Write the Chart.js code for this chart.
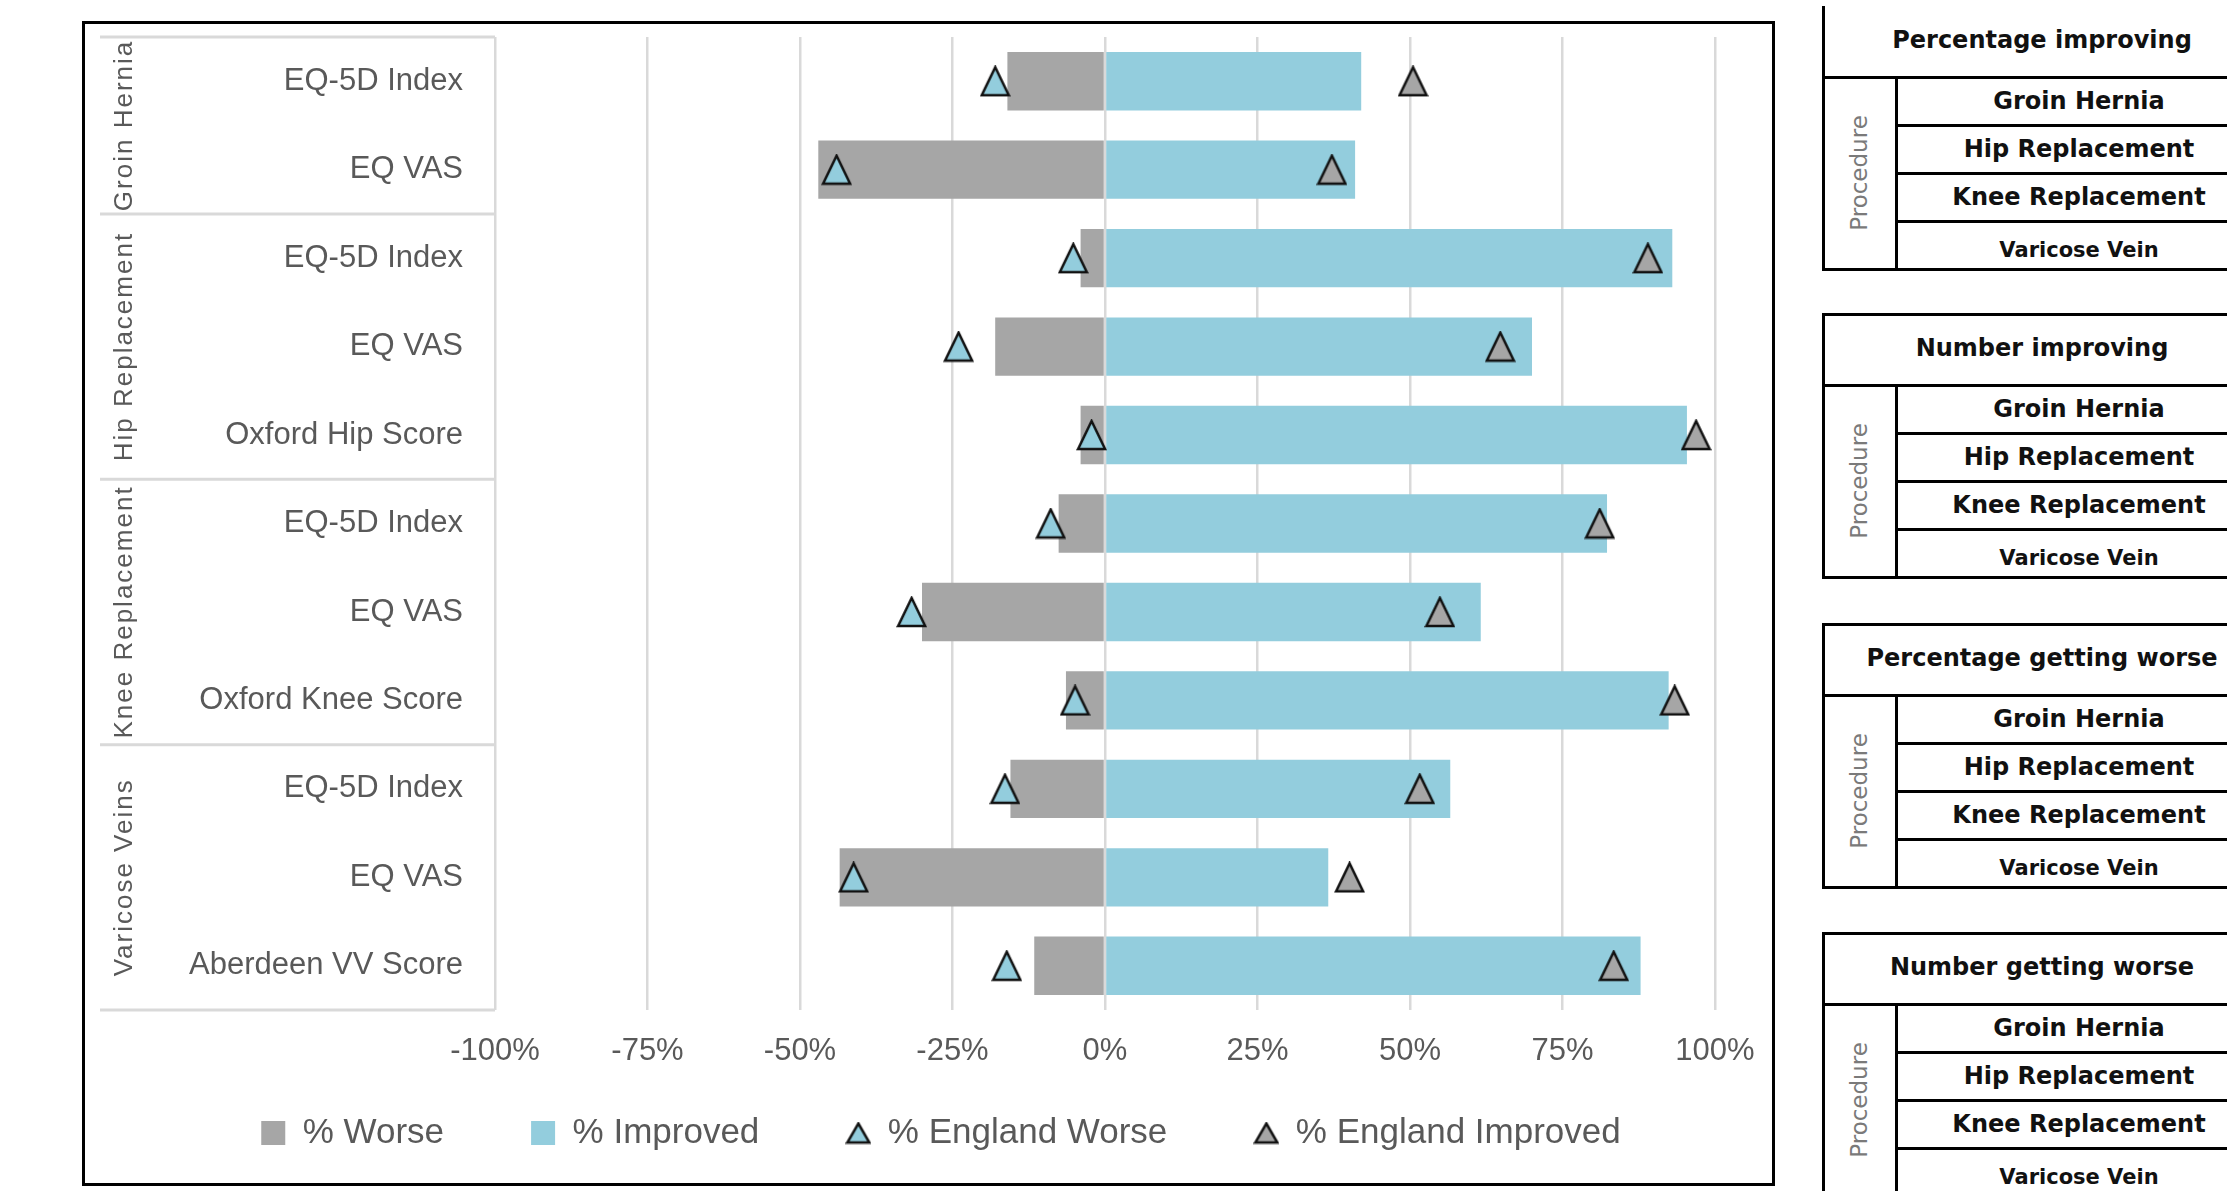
<!DOCTYPE html>
<html>
<head>
<meta charset="utf-8">
<title>PROMs outcomes by procedure</title>
<script src="https://cdn.jsdelivr.net/npm/chart.js@4.4.1/dist/chart.umd.min.js"></script>
<style>
  html, body { margin: 0; padding: 0; background: #fff; }
  body { width: 2227px; height: 1191px; position: relative; overflow: hidden; }
  #frame { position: absolute; left: 82px; top: 21px; width: 1693px; height: 1165px;
           border: 3px solid #000; box-sizing: border-box; }
  #wrap { position: absolute; left: 0; top: 0; width: 1687px; height: 1159px; }
  .tbl { position: absolute; left: 1822px; width: 440px; font-family: "DejaVu Sans", sans-serif; color: #111; }
  .tbl .ln { position: absolute; background: #000; }
  .tbl .title { position: absolute; left: 0; right: 0; display: flex; align-items: center;
                justify-content: center; font-weight: bold; font-size: 24px; padding-bottom: 4px; box-sizing: border-box; }
  .tbl .row { position: absolute; left: 74px; right: 0; display: flex; align-items: center;
              justify-content: center; font-weight: bold; font-size: 24px; }
  .tbl .proc { position: absolute; left: 0; width: 74px; display: flex; align-items: center;
               justify-content: center; color: #7a7a7a; font-size: 23px; }
  .tbl .proc span { transform: rotate(-90deg); white-space: nowrap; }
</style>
</head>
<body>
<div id="frame"><div id="wrap"><canvas id="chart"></canvas></div></div>
<div id="tables"></div>

<script>
// Data
const categories = ['EQ-5D Index', 'EQ VAS', 'EQ-5D Index', 'EQ VAS', 'Oxford Hip Score',
    'EQ-5D Index', 'EQ VAS', 'Oxford Knee Score', 'EQ-5D Index', 'EQ VAS', 'Aberdeen VV Score'];
const procedures = ['Groin Hernia', 'Hip Replacement', 'Knee Replacement', 'Varicose Veins'];
const procedureSizes = [2, 3, 3, 3];

const pctWorse = [-16, -47, -4, -18, -4, -7.6, -30, -6.4, -15.5, -43.5, -11.6];
const pctImproved = [42, 41, 93, 70, 95.4, 82.3, 61.6, 92.4, 56.6, 36.6, 87.8];
const englandWorse = [-18, -44, -5.2, -24, -2.2, -8.9, -31.7, -4.9, -16.4, -41.2, -16.1];
const englandImproved = [50.5, 37.2, 89, 64.8, 96.9, 81.1, 54.9, 93.4, 51.6, 40.1, 83.4];

const xMin = -100;
const xMax = 100;
const xStep = 25;

// Side tables
const tableTitles = ['Percentage improving', 'Number improving', 'Percentage getting worse', 'Number getting worse'];
const tableRows = ['Groin Hernia', 'Hip Replacement', 'Knee Replacement', 'Varicose Vein'];
const tableTops = [6, 314, 624, 933];

const GREY = '#a6a6a6';
const BLUE = '#93cddd';
const TEXT = '#595959';
const FONT = '"Liberation Sans", Arial, sans-serif';

function makeTriangle(w, h, fill) {
    const c = document.createElement('canvas');
    c.width = w;
    c.height = h;
    const g = c.getContext('2d');
    g.beginPath();
    g.moveTo(w / 2, 2);
    g.lineTo(w - 2, h - 2);
    g.lineTo(2, h - 2);
    g.closePath();
    g.fillStyle = fill;
    g.fill();
    g.lineWidth = 2.5;
    g.strokeStyle = '#111';
    g.stroke();
    return c;
}

const triWorse = makeTriangle(31, 32, BLUE);
const triImproved = makeTriangle(31, 32, GREY);
const legTriWorse = makeTriangle(26, 23, BLUE);
const legTriImproved = makeTriangle(26, 23, GREY);

// Left-hand procedure panel: group separators + rotated group names
const groupPanel = {
    id: 'groupPanel',
    afterDraw(chart) {
        const { ctx, chartArea, scales: { y } } = chart;
        const step = y.getPixelForValue(1) - y.getPixelForValue(0);
        const left = 15;
        ctx.save();
        ctx.strokeStyle = '#d9d9d9';
        ctx.lineWidth = 3;
        ctx.beginPath();
        ctx.moveTo(left, chartArea.top);
        ctx.lineTo(chartArea.left, chartArea.top);
        ctx.stroke();

        ctx.fillStyle = TEXT;
        ctx.font = '26px ' + FONT;
        ctx.letterSpacing = '2px';
        ctx.textAlign = 'center';
        ctx.textBaseline = 'middle';

        let start = 0;
        procedureSizes.forEach((n, g) => {
            const top = y.getPixelForValue(start) - step / 2;
            const bottom = y.getPixelForValue(start + n - 1) + step / 2;
            ctx.beginPath();
            ctx.moveTo(left, bottom);
            ctx.lineTo(chartArea.left, bottom);
            ctx.stroke();

            ctx.save();
            ctx.translate(40, (top + bottom) / 2);
            ctx.rotate(-Math.PI / 2);
            ctx.fillText(procedures[g], 0, 0);
            ctx.restore();
            start += n;
        });
        ctx.restore();
    },
};

new Chart(document.getElementById('chart'), {
    type: 'bar',
    data: {
        labels: categories,
        datasets: [
            {
                label: '% Worse',
                data: pctWorse,
                backgroundColor: GREY,
                borderWidth: 0,
                stack: 'bars',
                order: 2,
                pointStyle: 'rect',
            },
            {
                label: '% Improved',
                data: pctImproved,
                backgroundColor: BLUE,
                borderWidth: 0,
                stack: 'bars',
                order: 2,
                pointStyle: 'rect',
            },
            {
                type: 'line',
                label: '% England Worse',
                data: englandWorse,
                showLine: false,
                pointStyle: triWorse,
                pointRadius: 12,
                stack: 'ew',
                order: 1,
                indexAxis: 'y',
            },
            {
                type: 'line',
                label: '% England Improved',
                data: englandImproved,
                showLine: false,
                pointStyle: triImproved,
                pointRadius: 12,
                stack: 'ei',
                order: 1,
                indexAxis: 'y',
            },
        ],
    },
    options: {
        indexAxis: 'y',
        responsive: true,
        maintainAspectRatio: false,
        animation: false,
        barPercentage: 0.66,
        categoryPercentage: 1,
        // left padding only nudges the centred legend; the y axis width makes up the rest
        layout: { padding: { top: 11, right: 57, bottom: 22.5, left: 82 } },
        scales: {
            x: {
                type: 'linear',
                stacked: true,
                min: xMin,
                max: xMax,
                ticks: {
                    stepSize: xStep,
                    // mirrored so the labels are not clipped to the thin axis box
                    mirror: true,
                    padding: -59.6,
                    color: TEXT,
                    font: { family: FONT, size: 31 },
                    callback: v => v + '%',
                },
                grid: { color: '#d9d9d9', lineWidth: 2.5, drawTicks: false },
                border: { display: false },
                afterFit: s => { s.height = 18.5; },
            },
            y: {
                type: 'category',
                stacked: true,
                ticks: {
                    padding: 32,
                    color: TEXT,
                    font: { family: FONT, size: 31 },
                },
                grid: { display: false, drawTicks: false },
                border: { display: false },
                afterFit: s => {
                    s.width = 328;
                    s.paddingTop = 0;
                    s.paddingBottom = 0;
                },
            },
        },
        plugins: {
            tooltip: { enabled: false },
            legend: {
                position: 'bottom',
                labels: {
                    usePointStyle: true,
                    pointStyleWidth: 24,
                    boxWidth: 24,
                    boxHeight: 24,
                    padding: 87,
                    color: TEXT,
                    font: { family: FONT, size: 35 },
                    sort: (a, b) => a.datasetIndex - b.datasetIndex,
                    generateLabels: chart => {
                        const items = Chart.defaults.plugins.legend.labels.generateLabels(chart);
                        items.forEach(it => {
                            if (it.datasetIndex === 2) it.pointStyle = legTriWorse;
                            if (it.datasetIndex === 3) it.pointStyle = legTriImproved;
                        });
                        return items;
                    },
                },
            },
        },
    },
    plugins: [groupPanel],
});

// Side tables (static text panels to the right of the chart)
const tablesEl = document.getElementById('tables');
const TITLE_H = 71;
const ROW_H = 48;
tableTitles.forEach((title, t) => {
    const top = tableTops[t];
    const h = TITLE_H + ROW_H * tableRows.length;
    const box = document.createElement('div');
    box.className = 'tbl';
    box.style.top = top + 'px';
    box.style.height = h + 'px';

    const parts = [];
    parts.push(`<div class="ln" style="left:0;top:0;width:3px;height:${h + 2}px"></div>`);
    if (t > 0) parts.push(`<div class="ln" style="left:0;top:-1px;width:440px;height:3px"></div>`);
    parts.push(`<div class="title" style="top:0;height:${TITLE_H}px">${title}</div>`);
    parts.push(`<div class="ln" style="left:0;top:${TITLE_H - 1}px;width:440px;height:3px"></div>`);
    parts.push(`<div class="ln" style="left:73px;top:${TITLE_H}px;width:3px;height:${ROW_H * tableRows.length + 2}px"></div>`);
    parts.push(`<div class="proc" style="top:${TITLE_H}px;height:${ROW_H * tableRows.length}px"><span>Procedure</span></div>`);
    tableRows.forEach((r, i) => {
        const ry = TITLE_H + ROW_H * i;
        const last = i === tableRows.length - 1;
        const style = last ? 'font-size:21px;padding-top:10px;box-sizing:border-box;' : '';
        parts.push(`<div class="row" style="top:${ry}px;height:${ROW_H}px;${style}">${r}</div>`);
        parts.push(`<div class="ln" style="left:${last ? 0 : 74}px;top:${ry + ROW_H - 1}px;width:${last ? 440 : 366}px;height:3px"></div>`);
    });
    box.innerHTML = parts.join('');
    tablesEl.appendChild(box);
});
</script>
</body>
</html>
